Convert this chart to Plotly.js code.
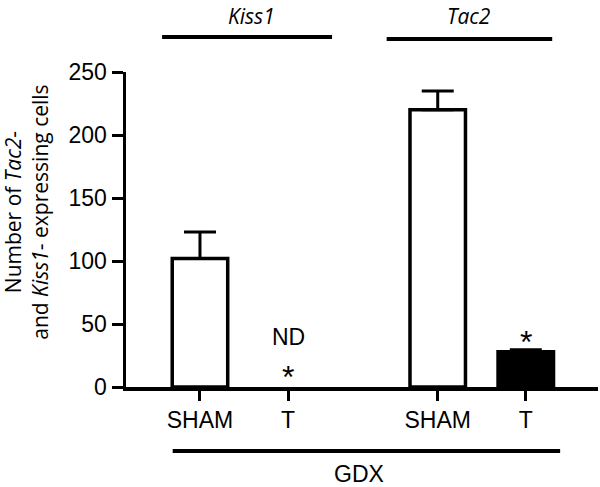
<!DOCTYPE html>
<html>
<head>
<meta charset="utf-8">
<script src="https://cdn.plot.ly/plotly-3.0.1.min.js"></script>
<style>html,body{margin:0;padding:0;background:#fff;}#chart{width:600px;height:487px;}</style>
</head>
<body>
<div id="chart"></div>
<script>
// Data
var genes = ["Kiss1", "Tac2"];
var treatments = ["SHAM", "T"];
var kiss1Means = [102, null];   // T: ND (not detected)
var kiss1Errors = [21, 0];
var tac2Means = [220, 28];
var tac2Errors = [15, 1.5];
var yTicks = [0, 50, 100, 150, 200, 250];

// layout helpers
var groupOffset = 2.7;
function xs(g) { return treatments.map(function (_, i) { return g * groupOffset + i; }); }
var xKiss = xs(0), xTac = xs(1);
var tickvals = xKiss.concat(xTac);
var ticktext = treatments.concat(treatments);

var barW = 0.63;
var traces = [
  {
    type: 'bar', x: xKiss, y: kiss1Means, width: barW,
    marker: { color: ['#ffffff', '#000000'], line: { color: '#000', width: 3.5 } },
    error_y: { type: 'data', array: kiss1Errors, arrayminus: [0, 0], symmetric: false, color: '#000', thickness: 3, width: 16 },
    hoverinfo: 'none'
  },
  {
    type: 'bar', x: xTac, y: tac2Means, width: barW,
    marker: { color: ['#ffffff', '#000000'], line: { color: '#000', width: 3.5 } },
    error_y: { type: 'data', array: tac2Errors, arrayminus: [0, 0], symmetric: false, color: '#000', thickness: 3, width: 16 },
    hoverinfo: 'none'
  }
];

var tickFont = { family: 'Liberation Sans, Arial, sans-serif', size: 23, color: '#000' };
var titleFont = { family: 'Open Sans, sans-serif', size: 21, color: '#000' };
function ann(o) { o.showarrow = false; o.xanchor = 'center'; o.yanchor = 'middle'; return o; }

var layout = {
  width: 600, height: 487,
  margin: { l: 126, r: 2, t: 72, b: 100 },
  paper_bgcolor: '#fff', plot_bgcolor: '#fff',
  showlegend: false,
  bargap: 0,
  xaxis: {
    range: [-0.84, 4.52], tickmode: 'array', tickvals: tickvals, ticktext: ticktext,
    showgrid: false, zeroline: false, showline: true, linecolor: '#000', linewidth: 3.5,
    ticks: 'outside', ticklen: 10, tickwidth: 3, tickcolor: '#000',
    tickfont: tickFont, fixedrange: true
  },
  yaxis: {
    range: [0, 250], tickmode: 'array', tickvals: yTicks,
    showgrid: false, zeroline: false, showline: true, linecolor: '#000', linewidth: 3.5,
    ticks: 'outside', ticklen: 11, tickwidth: 3, tickcolor: '#000',
    tickfont: tickFont, fixedrange: true
  },
  shapes: [
    { type: 'line', xref: 'x', yref: 'paper', x0: -0.43, x1: 1.5, y0: 1.111, y1: 1.111, line: { color: '#000', width: 4 } },
    { type: 'line', xref: 'x', yref: 'paper', x0: 2.12, x1: 4.0, y0: 1.105, y1: 1.105, line: { color: '#000', width: 4 } },
    { type: 'line', xref: 'x', yref: 'paper', x0: -0.31, x1: 4.09, y0: -0.203, y1: -0.203, line: { color: '#000', width: 4 } }
  ],
  annotations: [
    ann({ xref: 'x', yref: 'paper', x: 0.58, y: 1.178, text: '<i>' + genes[0] + '</i>', font: { family: 'Open Sans, sans-serif', size: 21, color: '#000' } }),
    ann({ xref: 'x', yref: 'paper', x: 3.05, y: 1.178, text: '<i>' + genes[1] + '</i>', font: { family: 'Open Sans, sans-serif', size: 21, color: '#000' } }),
    ann({ xref: 'x', yref: 'paper', x: 1.81, y: -0.276, text: 'GDX', font: { family: 'Liberation Sans, Arial, sans-serif', size: 23, color: '#000' } }),
    ann({ xref: 'x', yref: 'y', x: xKiss[1], y: 40, text: 'ND', font: { family: 'Liberation Sans, Arial, sans-serif', size: 23, color: '#000' } }),
    ann({ xref: 'x', yref: 'y', x: xKiss[1], y: 8, text: '*', font: { family: 'Liberation Sans, Arial, sans-serif', size: 32, color: '#000' } }),
    ann({ xref: 'x', yref: 'y', x: xTac[1], y: 36, text: '*', font: { family: 'Liberation Sans, Arial, sans-serif', size: 32, color: '#000' } }),
    ann({ xref: 'paper', yref: 'paper', x: -0.21, y: 0.556, textangle: -90, text: 'Number of <i>Tac2</i>-<br>and <i>Kiss1</i>- expressing cells', font: titleFont })
  ]
};

Plotly.newPlot('chart', traces, layout, { displayModeBar: false, staticPlot: true });
</script>
</body>
</html>
